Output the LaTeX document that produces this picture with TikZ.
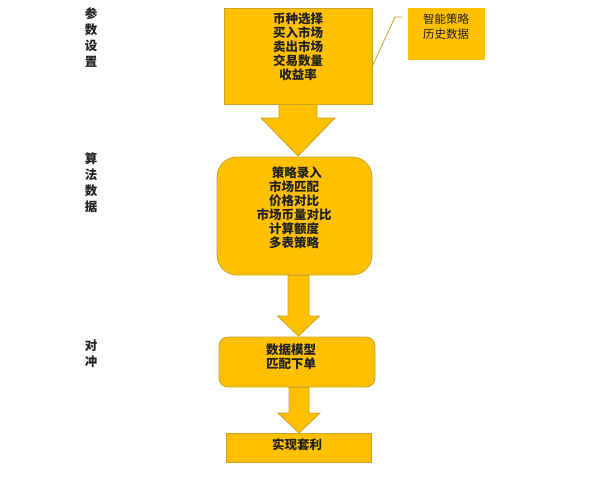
\documentclass[tikz,border=0pt]{standalone}
\usepackage{fontspec}
\setmainfont{Noto Sans CJK SC}
\newfontfamily\cjk{Noto Sans CJK SC}
\usetikzlibrary{calc,shapes.misc}
\definecolor{gold}{HTML}{FFC000}
\definecolor{goldedge}{HTML}{C9A227}
\definecolor{ink}{HTML}{222222}
\tikzset{
  box/.style={draw=goldedge, fill=gold, line width=0.8pt, inner sep=0pt},
  txt/.style={text=ink, align=center, font=\cjk\bfseries\fontsize{12.5}{14}\selectfont, inner sep=0pt},
  side/.style={text=ink, align=center, font=\cjk\bfseries\fontsize{12.5}{16}\selectfont, inner sep=0pt},
  note/.style={text=ink, align=center, font=\cjk\fontsize{11.5}{15}\selectfont, inner sep=0pt},
  barrow/.style={draw=goldedge, fill=gold, line width=0.8pt, line join=miter}
}
% block arrow: from, to, shaft half width, head half width, head length
\newcommand{\blockarr}[5]{%
  \path let \p1=(#1), \p2=(#2) in
    [barrow] (\x1-#3,\y1) -- (\x1-#3,\y2+#5) -- (\x1-#4,\y2+#5) -- (\x1,\y2)
    -- (\x1+#4,\y2+#5) -- (\x1+#3,\y2+#5) -- (\x1+#3,\y1) -- cycle;}
\begin{document}
\begin{tikzpicture}[x=1pt,y=-1pt]
\useasboundingbox (0,0) rectangle (605,477);
% side labels
\node[side] (s1) at (91,37) {参\\数\\设\\置};
\node[side] (s2) at (91,183) {算\\法\\数\\据};
\node[side] (s3) at (91,353.5) {对\\冲};
% arrows
\coordinate (a1s) at (298,104);
\coordinate (a1t) at (298,156);
\blockarr{a1s}{a1t}{19pt}{37pt}{38pt}
\coordinate (a2s) at (298.5,275.5);
\coordinate (a2t) at (298.5,336);
\blockarr{a2s}{a2t}{10.5pt}{21pt}{20pt}
\coordinate (a3s) at (299,387.5);
\coordinate (a3t) at (299,433);
\blockarr{a3s}{a3t}{10pt}{21pt}{20pt}
% boxes
\node[box, minimum width=148pt, minimum height=96pt] (b1) at (298,56) {};
\node[txt] (t1) at (298,47) {币种选择\\买入市场\\卖出市场\\交易数量\\收益率};
\node[box, rounded corners=20pt, minimum width=155pt, minimum height=118pt] (b2) at (294.5,216) {};
\node[txt] (t2) at (294,208) {\ \ 策略录入\\市场匹配\\价格对比\\市场币量对比\\计算额度\\多表策略};
\node[box, rounded corners=9pt, minimum width=156pt, minimum height=50pt] (b3) at (297,362) {};
\node[txt] (t3) at (291,356.5) {数据模型\\匹配下单};
\node[box, chamfered rectangle, chamfered rectangle corners=north east, chamfered rectangle xsep=3pt, chamfered rectangle ysep=3pt, minimum width=145pt, minimum height=29pt] (b4) at (298.5,447.5) {};
\node[txt] (t4) at (297,445) {实现套利};
% callout
\node[fill=gold, minimum width=77pt, minimum height=52pt, inner sep=0pt] (c) at (446.5,34) {};
\node[note] (ct) at (446,26.5) {智能策略\\历史数据};
\coordinate (cl1) at (395,17);
\coordinate (cl2) at (402,17);
\draw[goldedge, line width=0.8pt] (b1.east |- 0,66) -- (cl1) -- (cl2);
\end{tikzpicture}
\end{document}
